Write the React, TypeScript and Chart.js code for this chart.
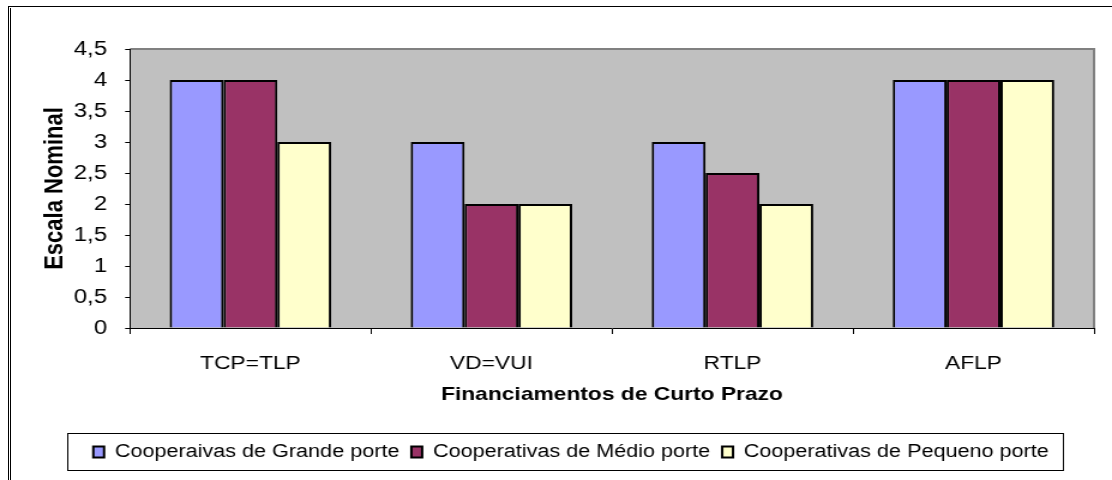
import React, { useEffect, useRef } from 'react';
import { Chart, registerables } from 'chart.js';

Chart.register(...registerables);

// ---- data ----
const categories = ['TCP=TLP', 'VD=VUI', 'RTLP', 'AFLP'];
const seriesNames = [
  'Cooperaivas de Grande porte',
  'Cooperativas de Médio porte',
  'Cooperativas de Pequeno porte',
];
const grandePorte = [4, 3, 3, 4];
const medioPorte = [4, 2, 2.5, 4];
const pequenoPorte = [3, 2, 2, 4];
const seriesColors = ['#9999FF', '#993366', '#FFFFCC'];
const yMin = 0;
const yMax = 4.5;
const yStep = 0.5;
const yTitle = 'Escala Nominal';
const xTitle = 'Financiamentos de Curto Prazo';

// ---- layout ----
const PAGE_W = 1112;
const PAGE_H = 480;
const STRETCH = 1.2; // the reference is horizontally stretched
const CANVAS_W = Math.round(PAGE_W / STRETCH);
const FONT = "'Liberation Sans', Arial, sans-serif";

const plotBg = {
  id: 'plotBg',
  beforeDraw(chart: any) {
    const { ctx, chartArea: a } = chart;
    ctx.save();
    ctx.fillStyle = '#C0C0C0';
    ctx.fillRect(a.left, a.top, a.right - a.left, a.bottom - a.top);
    ctx.strokeStyle = '#808080';
    ctx.lineWidth = 2;
    ctx.beginPath();
    ctx.moveTo(a.left, a.top);
    ctx.lineTo(a.right, a.top);
    ctx.lineTo(a.right, a.bottom);
    ctx.stroke();
    ctx.restore();
  },
};

const legendFrame = {
  id: 'legendFrame',
  afterDraw(chart: any) {
    const boxes = chart.legend && chart.legend.legendHitBoxes;
    if (!boxes || !boxes.length) return;
    const { ctx } = chart;
    const left = Math.min(...boxes.map((b: any) => b.left)) - 22;
    const right = Math.max(...boxes.map((b: any) => b.left + b.width)) + 12;
    const cy = boxes[0].top + boxes[0].height / 2;
    ctx.save();
    ctx.strokeStyle = '#000';
    ctx.lineWidth = 1;
    ctx.strokeRect(Math.round(left) + 0.5, Math.round(cy - 19) + 0.5, Math.round(right - left), 37);
    ctx.restore();
  },
};

export default function App() {
  const ref = useRef<HTMLCanvasElement | null>(null);

  useEffect(() => {
    if (!ref.current) return;
    const data = [grandePorte, medioPorte, pequenoPorte];
    const chart = new Chart(ref.current, {
      type: 'bar',
      data: {
        labels: categories,
        datasets: seriesNames.map((name, i) => ({
          label: name,
          data: data[i],
          backgroundColor: seriesColors[i],
          borderColor: '#000000',
          borderWidth: 2,
          categoryPercentage: 0.67,
          barPercentage: 1,
        })),
      },
      options: {
        responsive: false,
        animation: false,
        devicePixelRatio: 1,
        events: [],
        layout: { padding: { top: 49, right: 15, bottom: 9, left: 40 } },
        plugins: {
          tooltip: { enabled: false },
          legend: {
            position: 'bottom',
            labels: {
              boxWidth: 9,
              boxHeight: 11,
              padding: 10,
              color: '#000',
              font: { family: FONT, size: 18 },
            },
          },
        },
        scales: {
          x: {
            grid: {
              offset: true,
              drawOnChartArea: false,
              drawTicks: true,
              tickLength: 6,
              color: '#000',
            },
            border: { display: true, color: '#000', width: 1 },
            ticks: {
              color: '#000',
              padding: 18,
              font: { family: FONT, size: 19 },
            },
            title: {
              display: true,
              text: xTitle,
              color: '#000',
              font: { family: FONT, size: 19, weight: 'bold' },
              padding: { top: 0, bottom: 27 },
            },
            afterFit(scale: any) {
              scale.height = 105;
            },
          },
          y: {
            min: yMin,
            max: yMax,
            grid: {
              drawOnChartArea: false,
              drawTicks: true,
              tickLength: 4,
              color: '#000',
            },
            border: { display: true, color: '#000', width: 1 },
            ticks: {
              stepSize: yStep,
              color: '#000',
              padding: 15,
              font: { family: FONT, size: 20 },
              callback: (v: any) => String(v).replace('.', ','),
            },
            title: {
              display: true,
              text: yTitle,
              color: '#000',
              font: { family: FONT, size: 22, weight: 'bold' },
              padding: { top: -7, bottom: 0 },
            },
            afterFit(scale: any) {
              scale.width = 68.3;
            },
          },
        },
      },
      plugins: [plotBg, legendFrame],
    } as any);
    return () => chart.destroy();
  }, []);

  return (
    <div style={{ position: 'absolute', left: 0, top: 0, width: PAGE_W, height: PAGE_H, background: '#fff' }}>
      <canvas
        ref={ref}
        width={CANVAS_W}
        height={PAGE_H}
        style={{ width: PAGE_W + 'px', height: PAGE_H + 'px', display: 'block' }}
      />
      <div style={{ position: 'absolute', left: 8, top: 6, width: PAGE_W - 8, height: 1, background: '#000' }} />
      <div style={{ position: 'absolute', left: 8, top: 6, width: 1, height: PAGE_H - 6, background: '#000' }} />
      <div style={{ position: 'absolute', left: 10, top: 8, width: 1, height: PAGE_H - 8, background: '#000' }} />
    </div>
  );
}
